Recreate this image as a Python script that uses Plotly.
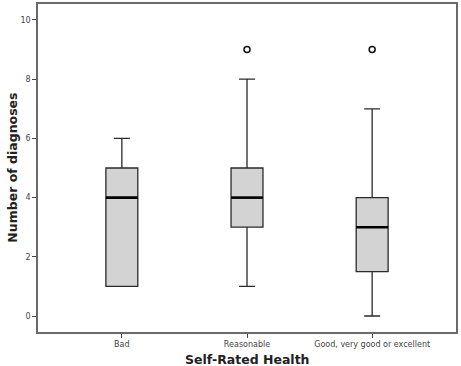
import plotly.graph_objects as go

categories = ["Bad", "Reasonable", "Good, very good or excellent"]
lower_whisker = [1, 1, 0]
q1_values = [1, 3, 1.5]
medians = [4, 4, 3]
q3_values = [5, 5, 4]
upper_whisker = [6, 8, 7]
outlier_cats = ["Reasonable", "Good, very good or excellent"]
outlier_values = [9, 9]
y_ticks = [0, 2, 4, 6, 8, 10]

BOX_W = 0.255
FONT = "DejaVu Sans"

fig = go.Figure()
fig.add_trace(go.Box(
    x=categories,
    q1=q1_values, median=medians, q3=q3_values,
    lowerfence=lower_whisker, upperfence=upper_whisker,
    width=BOX_W, whiskerwidth=0.5,
    fillcolor="#d3d3d3",
    line=dict(color="#2a2a2a", width=1.3),
    boxpoints=False,
    showlegend=False, hoverinfo="skip",
))
fig.add_trace(go.Scatter(
    x=outlier_cats, y=outlier_values, mode="markers",
    marker=dict(symbol="circle-open", size=6, color="#111111", line=dict(width=1.5)),
    showlegend=False, hoverinfo="skip",
))

shapes = []
for i, m in enumerate(medians):
    shapes.append(dict(type="line", xref="x", yref="y",
                       x0=i - BOX_W / 2, x1=i + BOX_W / 2, y0=m, y1=m,
                       line=dict(color="#000000", width=2.6)))

annotations = [
    dict(text="<b>Self-Rated Health</b>", xref="paper", yref="paper",
         x=0.5, y=-0.085, xanchor="center", yanchor="middle", showarrow=False,
         font=dict(size=12.5, family=FONT, color="#222222")),
    dict(text="<b>Number of diagnoses</b>", xref="paper", yref="paper",
         x=-0.063, y=0.5, xanchor="center", yanchor="middle", showarrow=False,
         textangle=-90, font=dict(size=12.5, family=FONT, color="#222222")),
]

fig.update_layout(
    width=461, height=366,
    margin=dict(l=38, r=5, t=4, b=34, autoexpand=False),
    paper_bgcolor="white", plot_bgcolor="white",
    font=dict(family=FONT, color="#222222"),
    shapes=shapes, annotations=annotations,
)
fig.update_xaxes(
    type="category", categoryorder="array", categoryarray=categories,
    range=[-0.67, 2.67], automargin=False,
    showline=True, linecolor="#6a6a6a", linewidth=1.6, mirror=True,
    ticks="outside", ticklen=4, tickcolor="#444444", tickwidth=1.2,
    showgrid=False, zeroline=False,
    tickfont=dict(size=8, family=FONT, color="#444444"),
)
fig.update_yaxes(
    range=[-0.54, 10.54], automargin=False,
    tickvals=y_ticks,
    showline=True, linecolor="#6a6a6a", linewidth=1.6, mirror=True,
    ticks="outside", ticklen=4, tickcolor="#444444", tickwidth=1.2,
    showgrid=False, zeroline=False,
    tickfont=dict(size=8, family=FONT, color="#444444"),
)

fig.write_html("out.html", config={"displayModeBar": False},
               post_script="document.body.style.margin='0';document.body.style.overflow='hidden';")
